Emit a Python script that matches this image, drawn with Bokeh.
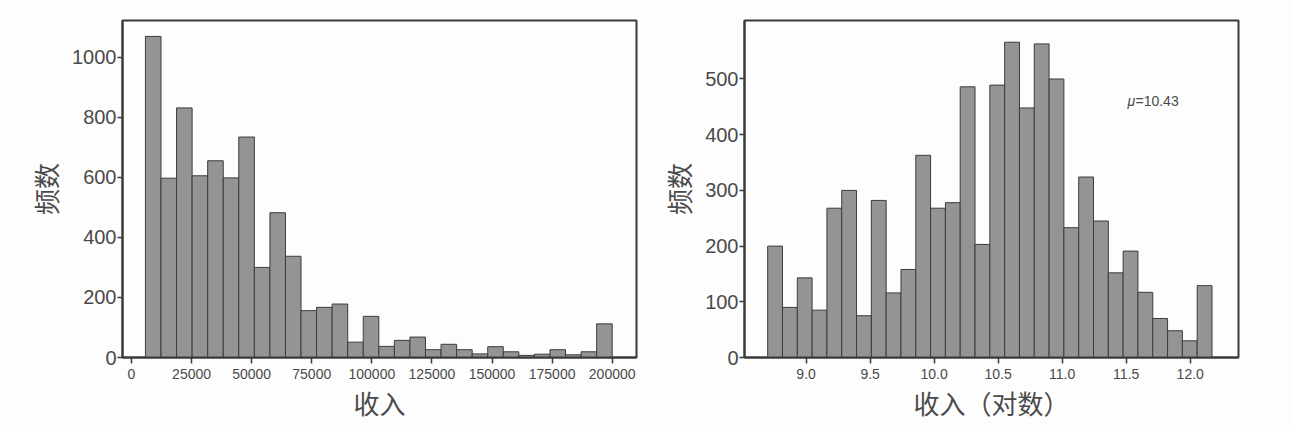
from bokeh.plotting import figure
from bokeh.layouts import row
from bokeh.models import Range1d, FixedTicker, NumeralTickFormatter, Label
from bokeh.embed import file_html
from bokeh.resources import INLINE
import numpy as np

# ---------------- data ----------------
income_low, income_high = 5800, 200000
income_counts = [1069, 597, 831, 605, 655, 598, 734, 300, 482, 337,
                 156, 167, 178, 51, 137, 37, 57, 68, 26, 44,
                 26, 12, 36, 19, 7, 11, 26, 9, 19, 112]

log_low, log_high = 8.70, 12.17
log_counts = [200, 90, 143, 85, 268, 300, 75, 282, 116, 158,
              363, 268, 278, 486, 203, 489, 566, 448, 563, 500,
              233, 324, 245, 152, 191, 117, 70, 48, 30, 129]

mu_value = 10.43
income_xticks = [0, 25000, 50000, 75000, 100000, 125000, 150000, 175000, 200000]
income_yticks = [0, 200, 400, 600, 800, 1000]
log_xticks = [9.0, 9.5, 10.0, 10.5, 11.0, 11.5, 12.0]
log_yticks = [0, 100, 200, 300, 400, 500]

xlabel_left = "收入"
xlabel_right = "收入（对数）"
ylabel = "频数"

# ---------------- style ----------------
BAR_FILL = "#949494"
BAR_LINE = "#3c3c3c"
FRAME = "#3a3a3a"
TEXT = "#4a4a4a"
BG = "#fdfdfd"
NUM_FONT = "Liberation Sans"
CJK_FONT = "Noto Sans CJK SC"


def style(p, xticks, yticks, xfmt):
    p.xgrid.visible = False
    p.ygrid.visible = False
    p.outline_line_color = FRAME
    p.outline_line_width = 2
    p.outline_line_alpha = 1
    p.background_fill_color = BG
    p.border_fill_color = BG
    for ax in (p.xaxis[0], p.yaxis[0]):
        ax.axis_line_color = FRAME
        ax.axis_line_width = 2
        ax.major_tick_line_color = FRAME
        ax.major_tick_line_width = 1.5
        ax.major_tick_in = 0
        ax.minor_tick_line_color = None
        ax.major_label_text_color = TEXT
        ax.major_label_text_font = NUM_FONT
        ax.axis_label_text_color = TEXT
        ax.axis_label_text_font = CJK_FONT
        ax.axis_label_text_font_style = "normal"
        ax.axis_label_text_font_size = "26px"
    p.xaxis[0].ticker = FixedTicker(ticks=xticks)
    p.yaxis[0].ticker = FixedTicker(ticks=yticks)
    p.xaxis[0].formatter = NumeralTickFormatter(format=xfmt)
    p.yaxis[0].formatter = NumeralTickFormatter(format="0")
    p.xaxis[0].major_tick_out = 6
    p.yaxis[0].major_tick_out = 5
    p.xaxis[0].major_label_text_font_size = "14px"
    p.yaxis[0].major_label_text_font_size = "20px"
    p.xaxis[0].major_label_standoff = 5
    p.yaxis[0].major_label_standoff = 1
    p.xaxis[0].axis_label_standoff = 2
    p.yaxis[0].axis_label_standoff = 5


# ---------------- left: income ----------------
edges1 = np.linspace(income_low, income_high, len(income_counts) + 1)
p1 = figure(width=650, height=426, output_backend="svg", toolbar_location=None,
            x_range=Range1d(-3745, 210110), y_range=Range1d(0, 1122),
            min_border_left=122, min_border_right=14,
            min_border_top=20, min_border_bottom=69,
            x_axis_label=xlabel_left, y_axis_label=ylabel)
p1.quad(left=edges1[:-1], right=edges1[1:], bottom=0, top=income_counts,
        fill_color=BAR_FILL, line_color=BAR_LINE, line_width=1)
style(p1, income_xticks, income_yticks, "0")

# ---------------- right: log income ----------------
edges2 = np.linspace(log_low, log_high, len(log_counts) + 1)
p2 = figure(width=642, height=426, output_backend="svg", toolbar_location=None,
            x_range=Range1d(8.519, 12.377), y_range=Range1d(0, 605),
            min_border_left=94, min_border_right=54,
            min_border_top=20, min_border_bottom=69,
            x_axis_label=xlabel_right, y_axis_label=ylabel)
p2.quad(left=edges2[:-1], right=edges2[1:], bottom=0, top=log_counts,
        fill_color=BAR_FILL, line_color=BAR_LINE, line_width=1)
style(p2, log_xticks, log_yticks, "0.0")

p2.add_layout(Label(x=11.51, y=461, text="μ", text_font=NUM_FONT,
                    text_font_style="italic", text_font_size="14px",
                    text_color=TEXT, text_baseline="middle", text_align="left"))
p2.add_layout(Label(x=11.51, y=461, x_offset=8, text="=%.2f" % mu_value,
                    text_font=NUM_FONT, text_font_size="14px",
                    text_color=TEXT, text_baseline="middle", text_align="left"))

layout = row(p1, p2)
open("out.html", "w").write(file_html(layout, INLINE))
